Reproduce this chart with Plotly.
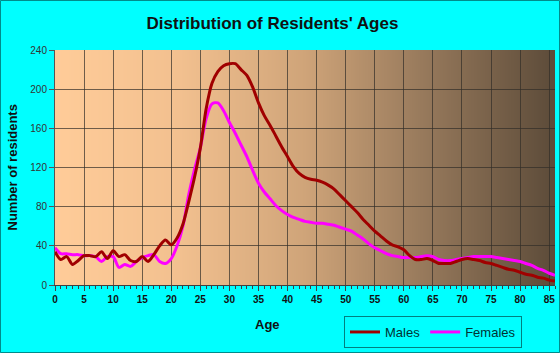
import plotly.graph_objects as go
import zlib, struct, base64

ages = list(range(0, 87))
males = [34, 26, 29, 21, 25, 30, 30, 29, 34, 27,
         35, 29, 31, 25, 24, 29, 24, 31, 40, 46,
         41, 48, 62, 85, 110, 140, 180, 206, 218, 224,
         226, 226, 220, 214, 202, 186, 173, 163, 152, 141,
         131, 121, 114, 110, 108, 107, 105, 102, 98, 92,
         86, 80, 74, 67, 61, 55, 50, 45, 41, 39,
         36, 30, 26, 26, 27, 25, 22, 22, 22, 24,
         26, 27, 26, 25, 23, 22, 20, 18, 16, 15,
         13, 11, 10, 8, 7, 5, 4]
females = [38, 32, 32, 31, 31, 30, 30, 29, 24, 29,
           29, 18, 21, 19, 24, 28, 30, 31, 24, 22,
           27, 40, 60, 92, 118, 140, 170, 185, 186, 178,
           166, 155, 143, 131, 117, 104, 95, 88, 81, 76,
           72, 69, 67, 65, 64, 63, 63, 62, 61, 59,
           57, 55, 51, 47, 42, 38, 35, 32, 30, 29,
           28, 28, 28, 29, 30, 29, 26, 25, 25, 26,
           27, 28, 29, 29, 29, 29, 28, 27, 26, 25,
           24, 22, 20, 17, 15, 12, 10]
x_ticks = list(range(0, 86, 5))
x_minor = list(range(0, 87))
y_ticks = list(range(0, 241, 40))

X_MAX = 86
Y_MAX = 240

W, H = 560, 353
ML, MR, MT, MB = 55, 5, 50, 68
PW, PH = W - ML - MR, H - MT - MB

fig = go.Figure()
fig.add_trace(go.Scatter(x=ages, y=females, name="Females", mode="lines",
                         line=dict(color="#FF00FF", width=3, shape="spline", smoothing=0.8)))
fig.add_trace(go.Scatter(x=ages, y=males, name="Males", mode="lines",
                         line=dict(color="#A00000", width=3, shape="spline", smoothing=0.8)))

# gradient background as a small PNG image (below gridlines)
stops = [(0.0, (255, 204, 153)), (0.25, (242, 192, 143)), (0.5, (207, 164, 121)),
         (0.75, (148, 119, 90)), (1.0, (92, 75, 57))]

def grad(t):
    for (t0, c0), (t1, c1) in zip(stops[:-1], stops[1:]):
        if t <= t1:
            f = (t - t0) / (t1 - t0)
            return tuple(int(round(a + (b - a) * f)) for a, b in zip(c0, c1))
    return stops[-1][1]

def png_uri(width, height, rows):
    raw = b"".join(b"\x00" + bytes(r) for r in rows)
    def chunk(tag, data):
        c = struct.pack(">I", len(data)) + tag + data
        return c + struct.pack(">I", zlib.crc32(tag + data) & 0xffffffff)
    png = b"\x89PNG\r\n\x1a\n" + chunk(b"IHDR", struct.pack(">IIBBBBB", width, height, 8, 2, 0, 0, 0)) \
        + chunk(b"IDAT", zlib.compress(raw)) + chunk(b"IEND", b"")
    return "data:image/png;base64," + base64.b64encode(png).decode()

row = []
for px in range(PW):
    row.extend(grad((px + 0.5) / PW))
img = png_uri(PW, 2, [row, row])

fig.add_layout_image(dict(source=img, xref="paper", yref="paper", x=0, y=1, sizex=1, sizey=1,
                          xanchor="left", yanchor="top", sizing="stretch", layer="below"))

# outer border
fig.add_shape(type="rect", xref="paper", yref="paper",
              x0=(-ML + 0.5) / PW, x1=(W - ML - 0.5) / PW,
              y0=(-MB + 0.5) / PH, y1=1 + (MT - 0.5) / PH,
              line=dict(color="#008B8B", width=1), layer="above")

font_fam = "Liberation Sans, Arial, sans-serif"

fig.update_layout(
    width=W, height=H,
    margin=dict(l=ML, r=MR, t=MT, b=MB),
    paper_bgcolor="#00FFFF",
    plot_bgcolor="#FFCC99",
    showlegend=True,
    legend=dict(orientation="h", x=(522 - ML) / PW, xanchor="right",
                y=(MT + PH - 316) / PH, yanchor="top",
                bgcolor="#00FFFF", bordercolor="#008080", borderwidth=1,
                traceorder="reversed",
                font=dict(family=font_fam, size=13, color="#003333")),
    title=dict(text="<b>Distribution of Residents' Ages</b>", x=272.5 / W, xanchor="center",
               y=1 - 23 / H, yanchor="middle", xref="container", yref="container",
               font=dict(family=font_fam, size=17, color="#111111")),
    annotations=[
        dict(text="<b>Age</b>", xref="paper", yref="paper", x=(267 - ML) / PW,
             y=(MT + PH - 324) / PH, xanchor="center", yanchor="middle", showarrow=False,
             font=dict(family=font_fam, size=13, color="#111111")),
        dict(text="<b>Number of residents</b>", xref="paper", yref="paper", x=(12 - ML) / PW,
             y=0.5, xanchor="center", yanchor="middle", showarrow=False, textangle=-90,
             font=dict(family=font_fam, size=13, color="#111111")),
    ],
)

fig.update_xaxes(range=[0, X_MAX], tickmode="array", tickvals=x_ticks,
                 ticktext=["<b>%d</b>" % v for v in x_ticks],
                 showgrid=True, gridcolor="rgba(50,45,40,0.7)", gridwidth=1,
                 showline=True, linecolor="#404040", linewidth=1,
                 ticks="outside", ticklen=5, tickcolor="#404040",
                 minor=dict(tickmode="array", tickvals=x_minor, ticks="outside", ticklen=3,
                            tickcolor="#404040", showgrid=False, gridcolor="rgba(0,0,0,0)"),
                 tickfont=dict(family=font_fam, size=10, color="#111111"),
                 zeroline=False, fixedrange=True)
fig.update_yaxes(range=[0, Y_MAX], tickvals=y_ticks,
                 showgrid=True, gridcolor="rgba(50,45,40,0.7)", gridwidth=1,
                 showline=True, linecolor="#555555", linewidth=1,
                 ticks="outside", ticklen=5, tickcolor="#555555",
                 tickfont=dict(family=font_fam, size=10, color="#333333"),
                 zeroline=False, fixedrange=True)

fig.write_html("out.html")
